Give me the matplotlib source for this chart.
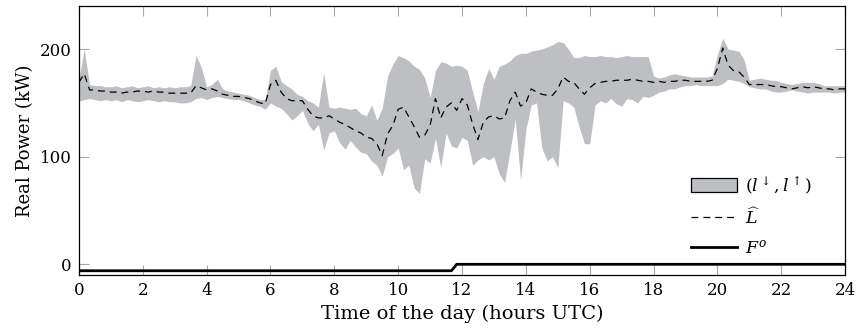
import numpy as np
import matplotlib
matplotlib.use("Agg")
import matplotlib.pyplot as plt
from matplotlib.patches import Patch
from matplotlib.lines import Line2D

# Time axis: 10-minute resolution over one day (hours UTC)
step_minutes = 10

# Lower bound of the load band l_down (kW), one row per hour
lower = [
    152, 153, 154, 153, 152, 153,   # 0h
    152, 153, 151, 153, 152, 151,   # 1h
    152, 153, 152, 151, 152, 151,   # 2h
    151, 150, 150, 151, 154, 155,   # 3h
    153, 155, 156, 155, 154, 153,   # 4h
    153, 152, 150, 148, 147, 144,   # 5h
    150, 147, 145, 140, 134, 138,   # 6h
    143, 131, 124, 130, 106, 122,   # 7h
    124, 113, 107, 115, 109, 104,   # 8h
    103, 96, 92, 82, 100, 103,      # 9h
    108, 88, 92, 71, 66, 98,        # 10h
    94, 117, 90, 122, 110, 108,     # 11h
    118, 115, 92, 97, 100, 97,      # 12h
    100, 84, 76, 105, 135, 78,      # 13h
    125, 148, 150, 108, 96, 100,    # 14h
    90, 152, 150, 146, 128, 112,    # 15h
    112, 148, 152, 150, 154, 149,   # 16h
    147, 154, 153, 150, 156, 155,   # 17h
    157, 160, 161, 163, 163, 165,   # 18h
    166, 166, 167, 166, 166, 166,   # 19h
    166, 168, 172, 171, 170, 168,   # 20h
    165, 164, 163, 163, 161, 160,   # 21h
    160, 161, 162, 161, 160, 159,   # 22h
    160, 160, 160, 160, 159, 160,   # 23h
    160,                            # 24h
]

# Upper bound of the load band l_up (kW)
upper = [
    172, 200, 167, 166, 166, 165,
    165, 166, 164, 165, 166, 164,
    165, 166, 164, 165, 164, 165,
    164, 165, 165, 166, 194, 183,
    165, 167, 172, 163, 161, 160,
    159, 158, 157, 155, 153, 153,
    180, 184, 170, 166, 163, 158,
    156, 152, 150, 146, 178, 146,
    145, 146, 145, 144, 145, 140,
    138, 148, 134, 145, 175, 186,
    194, 192, 189, 184, 181, 173,
    155, 180, 188, 187, 184, 185,
    184, 180, 160, 142, 168, 182,
    172, 184, 186, 189, 194, 196,
    196, 198, 199, 200, 202, 204,
    207, 206, 200, 192, 192, 194,
    193, 193, 194, 193, 193, 192,
    193, 194, 193, 193, 193, 193,
    175, 173, 174, 176, 177, 176,
    175, 174, 174, 174, 174, 175,
    195, 210, 200, 199, 198, 190,
    171, 172, 173, 172, 171, 171,
    169, 168, 167, 168, 169, 169,
    169, 168, 166, 166, 166, 166,
    166,
]

# Forecast load L_hat (kW)
forecast = [
    169, 177, 162, 162, 161, 161,
    160, 160, 159, 160, 160, 161,
    161, 160, 161, 160, 160, 159,
    159, 159, 159, 159, 166, 164,
    162, 163, 161, 158, 157, 156,
    156, 155, 154, 152, 150, 149,
    167, 171, 160, 154, 152, 152,
    152, 144, 138, 136, 136, 138,
    135, 132, 130, 127, 124, 122,
    118, 117, 112, 101, 121, 129,
    144, 146, 137, 128, 118, 120,
    129, 154, 136, 146, 150, 143,
    154, 148, 130, 116, 132, 137,
    138, 135, 136, 152, 160, 147,
    150, 163, 160, 158, 157, 157,
    163, 174, 170, 169, 163, 158,
    164, 168, 169, 170, 170, 171,
    171, 171, 172, 171, 170, 170,
    169, 170, 169, 170, 170, 171,
    171, 170, 170, 170, 170, 171,
    182, 201, 185, 180, 179, 174,
    167, 167, 167, 167, 166, 165,
    165, 164, 163, 164, 165, 164,
    165, 164, 163, 163, 162, 163,
    163,
]

# Flexibility offer F^o (kW): constant before and after the switch
fo_before = -6
fo_after = 0
fo_switch_hour = 11.8

x_ticks = [0, 2, 4, 6, 8, 10, 12, 14, 16, 18, 20, 22, 24]
y_ticks = [0, 100, 200]

hours = np.arange(len(forecast)) * step_minutes / 60.0
fo = np.where(hours < fo_switch_hour, fo_before, fo_after)

plt.rcParams["font.family"] = ["DejaVu Serif"]
plt.rcParams["mathtext.fontset"] = "dejavuserif"

band_color = "#bebfc3"

fig = plt.figure(figsize=(8.58, 3.33), dpi=100)
ax = fig.add_axes([0.092, 0.174, 0.893, 0.808])

ax.fill_between(hours, lower, upper, color=band_color, linewidth=0)
ax.plot(hours, forecast, color="black", linewidth=0.9, linestyle=(0, (5.5, 4)))
ax.plot(hours, fo, color="black", linewidth=2.0)

ax.set_xlim(0, 24)
ax.set_ylim(-10, 240)
ax.set_xticks(x_ticks)
ax.set_yticks(y_ticks)
ax.tick_params(direction="in", length=7, width=0.8, color="#a8a8a8",
               top=True, right=True, labelsize=12, pad=5)
for sp in ax.spines.values():
    sp.set_linewidth(0.9)

ax.set_xlabel("Time of the day (hours UTC)", fontsize=14, labelpad=4)
ax.set_ylabel("Real Power (kW)", fontsize=13, labelpad=4)

handles = [
    Patch(facecolor=band_color, edgecolor="black", linewidth=0.9),
    Line2D([], [], color="black", linewidth=0.9, linestyle=(0, (5.5, 4))),
    Line2D([], [], color="black", linewidth=2.0),
]
labels = [r"$(l^{\downarrow}, l^{\uparrow})$", r"$\widehat{L}$", r"$F^o$"]
ax.legend(handles, labels, loc="lower right", bbox_to_anchor=(0.966, 0.04),
          frameon=False, fontsize=12.5, handlelength=2.65, handleheight=0.9,
          handletextpad=0.45, labelspacing=0.66, borderaxespad=0)

fig.savefig("out.png", dpi=100)
